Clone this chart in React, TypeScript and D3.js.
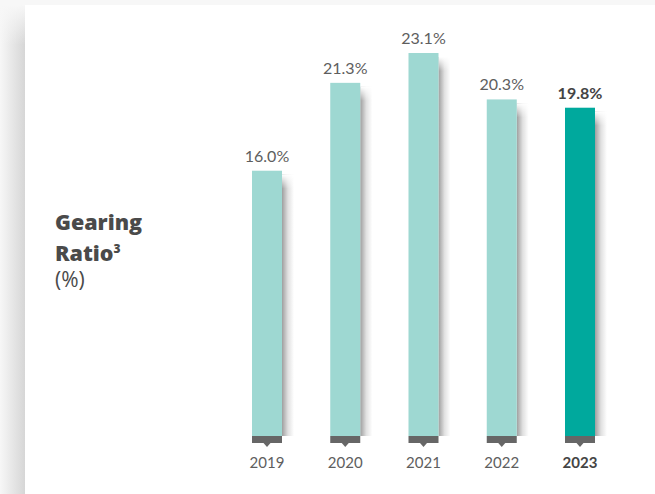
import React from "react";
import * as d3 from "d3";

const years = ["2019", "2020", "2021", "2022", "2023"];
const values = [16.0, 21.3, 23.1, 20.3, 19.8];
const labels = ["16.0%", "21.3%", "23.1%", "20.3%", "19.8%"];
const highlight = [false, false, false, false, true];

const W = 655;
const H = 494;

export default function App() {
  const x = d3.scalePoint<string>().domain(years).range([267, 580]);
  const y = d3.scaleLinear().domain([0, 25]).range([436, 436 - 25 * 16.58]);
  const bw = 30;
  const font = "Lato, 'Open Sans', sans-serif";
  const titleFont = "'Open Sans', Lato, sans-serif";
  return (
    <svg
      width={W}
      height={H}
      style={{ position: "absolute", left: 0, top: 0, display: "block" }}
    >
      <defs>
        <linearGradient id="leftShadow" x1="0" x2="1" y1="0" y2="0">
          <stop offset="0" stopColor="#f7f7f7" />
          <stop offset="1" stopColor="#d6d6d6" />
        </linearGradient>
        <linearGradient id="topFade" x1="0" x2="0" y1="0" y2="1">
          <stop offset="0" stopColor="#f7f7f7" stopOpacity="1" />
          <stop offset="1" stopColor="#f7f7f7" stopOpacity="0" />
        </linearGradient>
        <linearGradient id="barShadow" x1="0" x2="1" y1="0" y2="0">
          <stop offset="0" stopColor="#000" stopOpacity="0.38" />
          <stop offset="0.5" stopColor="#000" stopOpacity="0.12" />
          <stop offset="1" stopColor="#000" stopOpacity="0" />
        </linearGradient>
        <linearGradient id="barShadowTop" x1="0" x2="0" y1="0" y2="1">
          <stop offset="0" stopColor="#fff" stopOpacity="1" />
          <stop offset="1" stopColor="#fff" stopOpacity="0" />
        </linearGradient>
      </defs>
      <rect x={0} y={0} width={W} height={H} fill="#f7f7f7" />
      <rect x={0} y={5} width={25} height={H - 5} fill="url(#leftShadow)" />
      <rect x={0} y={5} width={25} height={40} fill="url(#topFade)" />
      <rect x={25} y={5} width={W - 25} height={H - 5} fill="#ffffff" />

      <text x={55} y={230} fontFamily={titleFont} fontWeight={800} fontSize={21.5} fill="#4a4a4a">
        Gearing
      </text>
      <text x={55} y={261} fontFamily={titleFont} fontWeight={800} fontSize={21.5} fill="#4a4a4a">
        Ratio<tspan fontSize={12} dy={-8}>3</tspan>
      </text>
      <text x={55} y={287} fontFamily={titleFont} fontWeight={400} fontSize={21} fill="#4a4a4a">
        (%)
      </text>

      {years.map((yr, i) => {
        const cx = x(yr) as number;
        const top = y(values[i]);
        const bottom = y(0);
        return (
          <g key={yr}>
            <rect
              x={cx + bw / 2}
              y={top + 4}
              width={12}
              height={bottom - top - 4}
              fill="url(#barShadow)"
            />
            <rect x={cx + bw / 2} y={top + 4} width={12} height={14} fill="url(#barShadowTop)" />
            <rect
              x={cx - bw / 2}
              y={top}
              width={bw}
              height={bottom - top}
              fill={highlight[i] ? "#00a99d" : "#9ed8d2"}
            />
            <rect x={cx - bw / 2} y={bottom} width={bw} height={7} fill="#666666" />
            <path
              d={`M${cx - 3.5},${bottom + 7} L${cx + 3.5},${bottom + 7} L${cx},${bottom + 11} Z`}
              fill="#666666"
            />
            <text
              x={cx}
              y={top - 9}
              textAnchor="middle"
              fontFamily={font}
              fontWeight={highlight[i] ? 700 : 400}
              fontSize={16}
              fill={highlight[i] ? "#444" : "#5e5e5e"}
            >
              {labels[i]}
            </text>
            <text
              x={cx}
              y={468}
              textAnchor="middle"
              fontFamily={font}
              fontWeight={highlight[i] ? 700 : 400}
              fontSize={15}
              fill={highlight[i] ? "#444" : "#5e5e5e"}
            >
              {yr}
            </text>
          </g>
        );
      })}
    </svg>
  );
}
